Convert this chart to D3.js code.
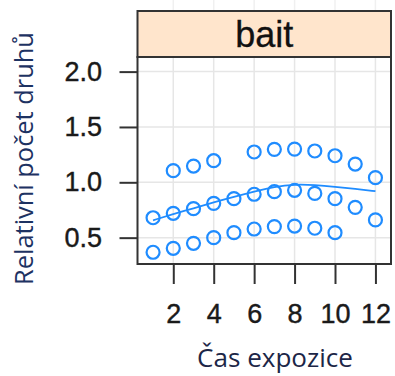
<!DOCTYPE html>
<html><head><meta charset="utf-8">
<script src="https://cdn.jsdelivr.net/npm/d3@7"></script>
<style>body{margin:0;background:#fff}svg{display:block}</style>
</head><body>
<script>
// Data
const stripLabel = "bait";
const xTicks = [2, 4, 6, 8, 10, 12];
const yTicks = [0.5, 1.0, 1.5, 2.0];
const topX = [2, 3, 4, 6, 7, 8, 9, 10, 11, 12];
const topY = [1.105, 1.147, 1.195, 1.274, 1.298, 1.30, 1.283, 1.24, 1.165, 1.042];
const midX = [1, 2, 3, 4, 5, 6, 7, 8, 9, 10, 11, 12];
const midY = [0.68, 0.72, 0.762, 0.81, 0.852, 0.892, 0.915, 0.928, 0.90, 0.852, 0.774, 0.66];
const lowX = [1, 2, 3, 4, 5, 6, 7, 8, 9, 10];
const lowY = [0.368, 0.404, 0.449, 0.50, 0.545, 0.578, 0.60, 0.605, 0.585, 0.545];
const smoothX = [1, 2, 3, 4, 5, 6, 7, 8, 9, 10, 11, 12];
const smoothY = [0.657, 0.713, 0.765, 0.82, 0.87, 0.915, 0.96, 0.982, 0.976, 0.96, 0.94, 0.92];

const W = 395, H = 376;
const svg = d3.select("body").append("svg").attr("width", W).attr("height", H);
const panel = {left: 137.5, right: 391, top: 57, bottom: 264};
const stripTop = 11;
const x = d3.scaleLinear().domain([0.23, 12.77]).range([panel.left, panel.right]);
const y = d3.scaleLinear().domain([0.262, 2.132]).range([panel.bottom, panel.top]);
const col = "#1f8cff";
const axisCol = "#333";
const numFont = "'Liberation Sans', Arial, sans-serif";
const titleFont = "'Open Sans', sans-serif";

// faint grid remnants above strip
svg.append("g").selectAll("line").data(xTicks).join("line")
  .attr("x1", d => x(d)).attr("x2", d => x(d)).attr("y1", 0).attr("y2", stripTop)
  .attr("stroke", "#f0f0f0").attr("stroke-width", 1.5);

// grid
const grid = svg.append("g");
grid.selectAll(".gx").data(xTicks).join("line")
  .attr("x1", d => x(d)).attr("x2", d => x(d)).attr("y1", panel.top).attr("y2", panel.bottom)
  .attr("stroke", "#e6e6e6").attr("stroke-width", 1.5);
grid.selectAll(".gy").data(yTicks).join("line")
  .attr("y1", d => y(d)).attr("y2", d => y(d)).attr("x1", panel.left).attr("x2", panel.right)
  .attr("stroke", "#e6e6e6").attr("stroke-width", 1.5);

// strip
svg.append("rect").attr("x", panel.left).attr("y", stripTop)
  .attr("width", panel.right - panel.left).attr("height", panel.top - stripTop)
  .attr("fill", "#ffe5cc").attr("stroke", axisCol).attr("stroke-width", 2);
svg.append("text").attr("x", (panel.left + panel.right) / 2).attr("y", 47)
  .attr("text-anchor", "middle").attr("font-family", numFont)
  .attr("font-size", 36).attr("fill", "#111").attr("stroke", "#111").attr("stroke-width", 0.3)
  .text(stripLabel);

// data points
const pts = [].concat(
  topX.map((d, i) => [d, topY[i]]),
  midX.map((d, i) => [d, midY[i]]),
  lowX.map((d, i) => [d, lowY[i]])
);
svg.append("g").selectAll("circle").data(pts).join("circle")
  .attr("cx", d => x(d[0])).attr("cy", d => y(d[1])).attr("r", 6.5)
  .attr("fill", "none").attr("stroke", col).attr("stroke-width", 2.2);

// smooth line
const line = d3.line().x(d => x(d[0])).y(d => y(d[1])).curve(d3.curveBasis);
svg.append("path").datum(smoothX.map((d, i) => [d, smoothY[i]]))
  .attr("d", line).attr("fill", "none").attr("stroke", col).attr("stroke-width", 1.8);

// panel border
svg.append("rect").attr("x", panel.left).attr("y", panel.top)
  .attr("width", panel.right - panel.left).attr("height", panel.bottom - panel.top)
  .attr("fill", "none").attr("stroke", axisCol).attr("stroke-width", 2);

// axes
const xAxis = d3.axisBottom(x).tickValues(xTicks).tickSize(20).tickPadding(20).tickFormat(d3.format("d"));
const gx = svg.append("g").attr("transform", `translate(0,${panel.bottom})`).call(xAxis);
gx.select(".domain").remove();
gx.selectAll("line").attr("stroke", axisCol).attr("stroke-width", 2);
gx.selectAll("text").attr("font-family", numFont).attr("font-size", 27)
  .attr("fill", "#1a1a1a").attr("stroke", "#1a1a1a").attr("stroke-width", 0.4);

const yAxis = d3.axisLeft(y).tickValues(yTicks).tickSize(18).tickPadding(17.5).tickFormat(d3.format(".1f"));
const gy = svg.append("g").attr("transform", `translate(${panel.left},0)`).call(yAxis);
gy.select(".domain").remove();
gy.selectAll("line").attr("stroke", axisCol).attr("stroke-width", 2);
gy.selectAll("text").attr("font-family", numFont).attr("font-size", 27)
  .attr("fill", "#1a1a1a").attr("stroke", "#1a1a1a").attr("stroke-width", 0.4);

// axis titles, sized to the reference's text extents
function fitText(sel, target) {
  const w = sel.node().getComputedTextLength();
  const fs = +sel.attr("font-size");
  sel.attr("font-size", fs * target / w);
}
const xt = svg.append("text").attr("x", 275).attr("y", 367).attr("text-anchor", "middle")
  .attr("font-family", titleFont).attr("font-size", 22).attr("fill", "#1c2647")
  .text("Čas expozice");
fitText(xt, 156);
const yt = svg.append("text").attr("transform", "translate(33,158.5) rotate(-90)").attr("text-anchor", "middle")
  .attr("font-family", titleFont).attr("font-size", 22).attr("fill", "#1d3262")
  .text("Relativní počet druhů");
fitText(yt, 253);
</script>
</body></html>
